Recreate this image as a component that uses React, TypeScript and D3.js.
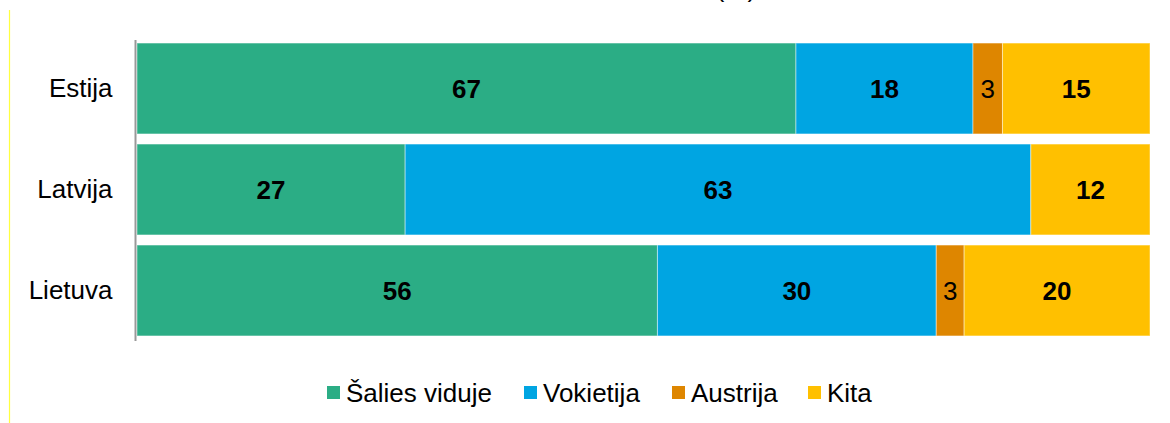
import React, { useEffect, useRef } from 'react';
import * as d3 from 'd3';

const countries = ['Estija', 'Latvija', 'Lietuva'];
const seriesNames = ['Šalies viduje', 'Vokietija', 'Austrija', 'Kita'];
const salies = [67, 27, 56];
const vokietija = [18, 63, 30];
const austrija = [3, 0, 3];
const kita = [15, 12, 20];
const colors = ['#2BAD85', '#00A5E2', '#DE8600', '#FFC000'];

const App = () => {
    const svgRef = useRef<SVGSVGElement>(null);

    useEffect(() => {
        const svg = d3.select(svgRef.current);
        svg.selectAll('*').remove();

        const font = '"Liberation Sans", Arial, sans-serif';
        const fontSize = '26px';

        const rows = countries.map((c, i) => ({
            country: c,
            [seriesNames[0]]: salies[i],
            [seriesNames[1]]: vokietija[i],
            [seriesNames[2]]: austrija[i],
            [seriesNames[3]]: kita[i],
        }));

        const stack = d3.stack<any>()
            .keys(seriesNames)
            .offset(d3.stackOffsetExpand);
        const layers = stack(rows);

        const xScale = d3.scaleLinear().domain([0, 1]).range([137, 1150]);
        const yScale = d3.scaleBand()
            .domain(countries)
            .range([38, 341])
            .paddingInner(0.1)
            .paddingOuter(0.05);

        // thin frame line at the left
        svg.append('line')
            .attr('x1', 9.5).attr('x2', 9.5)
            .attr('y1', 10).attr('y2', 423)
            .attr('stroke', '#ffff40')
            .attr('stroke-width', 1.2);

        // cut-off title
        svg.append('text')
            .attr('x', 736)
            .attr('y', -3)
            .attr('text-anchor', 'middle')
            .attr('font-family', font)
            .attr('font-size', fontSize)
            .attr('fill', '#000')
            .text('(%)');

        const groups = svg.selectAll('.layer')
            .data(layers)
            .enter().append('g')
            .attr('class', 'layer')
            .attr('fill', (_, i) => colors[i]);

        groups.selectAll('rect')
            .data(d => d)
            .enter().append('rect')
            .attr('x', d => xScale(d[0]))
            .attr('y', d => yScale(d.data.country)!)
            .attr('width', d => xScale(d[1]) - xScale(d[0]))
            .attr('height', yScale.bandwidth())
            .attr('stroke', 'rgba(255,255,255,0.45)')
            .attr('stroke-width', 1);

        groups.each(function (layer, li) {
            d3.select(this).selectAll('text')
                .data(layer.filter(d => d.data[seriesNames[li]] > 0))
                .enter().append('text')
                .attr('x', d => (xScale(d[0]) + xScale(d[1])) / 2)
                .attr('y', d => yScale(d.data.country)! + yScale.bandwidth() / 2)
                .attr('dy', '0.36em')
                .attr('text-anchor', 'middle')
                .attr('font-family', font)
                .attr('font-size', fontSize)
                .attr('font-weight', li === 2 ? 'normal' : 'bold')
                .attr('fill', '#000')
                .text(d => d.data[seriesNames[li]]);
        });

        // category axis
        const yAxis = d3.axisLeft(yScale).tickSize(0).tickPadding(23);
        const axisG = svg.append('g')
            .attr('transform', 'translate(135.5,0)')
            .call(yAxis);
        axisG.select('.domain')
            .attr('d', 'M0,40V341')
            .attr('stroke', '#999')
            .attr('stroke-width', 2);
        axisG.selectAll('text')
            .attr('font-family', font)
            .attr('font-size', fontSize)
            .attr('fill', '#000');

        // legend
        const legendX = [327, 524, 672, 808];
        const legend = svg.append('g');
        const items = legend.selectAll('g')
            .data(seriesNames)
            .enter().append('g')
            .attr('transform', (_, i) => `translate(${legendX[i]},392.5)`);
        items.append('rect')
            .attr('x', 0).attr('y', -6.5)
            .attr('width', 13).attr('height', 13)
            .attr('fill', (_, i) => colors[i]);
        items.append('text')
            .attr('x', 19)
            .attr('y', 0)
            .attr('dy', '0.36em')
            .attr('font-family', font)
            .attr('font-size', fontSize)
            .attr('fill', '#000')
            .text(d => d);
    }, []);

    return (
        <div style={{ position: 'fixed', left: 0, top: 0, background: '#fff' }}>
            <svg ref={svgRef} width={1170} height={423}></svg>
        </div>
    );
};

export default App;
